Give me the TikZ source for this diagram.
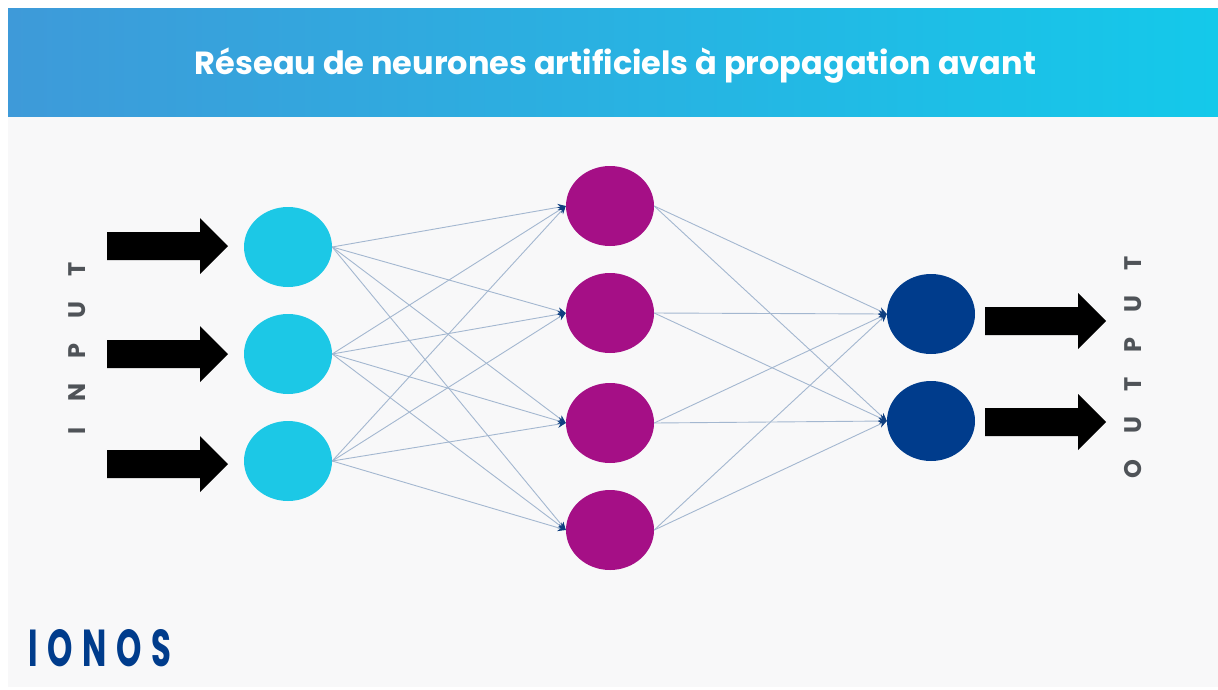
\documentclass[tikz,border=0pt]{standalone}
\usepackage{fontspec}
\setmainfont{Poppins}
\usetikzlibrary{shapes.geometric,arrows.meta}
\definecolor{panelbg}{HTML}{F8F8F9}
\definecolor{headleft}{HTML}{3E9AD9}
\definecolor{headright}{HTML}{14C9EA}
\definecolor{incol}{HTML}{1CC8E6}
\definecolor{hidcol}{HTML}{A50F86}
\definecolor{outcol}{HTML}{003C8C}
\definecolor{linkcol}{HTML}{A3B7D0}
\definecolor{tipcol}{HTML}{0F3F80}
\definecolor{sidecol}{HTML}{4F5358}
\tikzset{
  neuron/.style={ellipse,minimum width=88pt,minimum height=80pt,inner sep=0pt},
  inneuron/.style={neuron,fill=incol},
  hidneuron/.style={neuron,fill=hidcol},
  outneuron/.style={neuron,fill=outcol},
  link/.style={draw=linkcol,line width=0.9pt,-{Stealth[length=8pt,width=7pt,color=tipcol]}},
  sidelabel/.style={rotate=90,text=sidecol,font=\fontsize{24}{24}\selectfont\bfseries\addfontfeatures{LetterSpace=105},inner sep=0pt}
}
\newcommand{\blockarrow}[2]{\fill[black] (#1,#2) ++(0,-14) -- ++(93,0) -- ++(0,-14) -- ++(28,28) -- ++(-28,28) -- ++(0,-14) -- ++(-93,0) -- cycle;}
\begin{document}
\begin{tikzpicture}[x=1pt,y=-1pt]
\useasboundingbox (0,0) rectangle (1218,689);
\fill[white] (0,0) rectangle (1218,689);
\fill[panelbg] (8,8) rectangle (1218,687);
\shade[left color=headleft,right color=headright] (8,8) rectangle (1218,116);
\node[text=white,inner sep=0pt,font=\fontsize{32}{32}\selectfont\bfseries] (title) at (615.5,66) {Réseau de neurones artificiels à propagation avant};
\foreach \n/\y in {i1/247,i2/354,i3/461} \node[inneuron] (\n) at (288,\y) {};
\foreach \n/\y in {h1/206,h2/313,h3/423,h4/530} \node[hidneuron] (\n) at (610,\y) {};
\foreach \n/\y in {o1/314,o2/421} \node[outneuron] (\n) at (931,\y) {};
\foreach \a in {i1,i2,i3} \foreach \b in {h1,h2,h3,h4} \draw[link] (\a.east) -- (\b.west);
\foreach \a in {h1,h2,h3,h4} \foreach \b in {o1,o2} \draw[link] (\a.east) -- (\b.west);
\blockarrow{107}{246}
\blockarrow{107}{354}
\blockarrow{107}{464}
\blockarrow{985}{321}
\blockarrow{985}{422}
\node[sidelabel] (inlab) at (77,348) {INPUT};
\node[sidelabel] (outlab) at (1133,367) {OUTPUT};
\node[text=outcol,inner sep=0pt,font=\fontsize{52}{52}\selectfont\bfseries] (logo) at (100,648) {\scalebox{0.62}[1]{\addfontfeatures{LetterSpace=30}IONOS}};
\end{tikzpicture}
\end{document}
